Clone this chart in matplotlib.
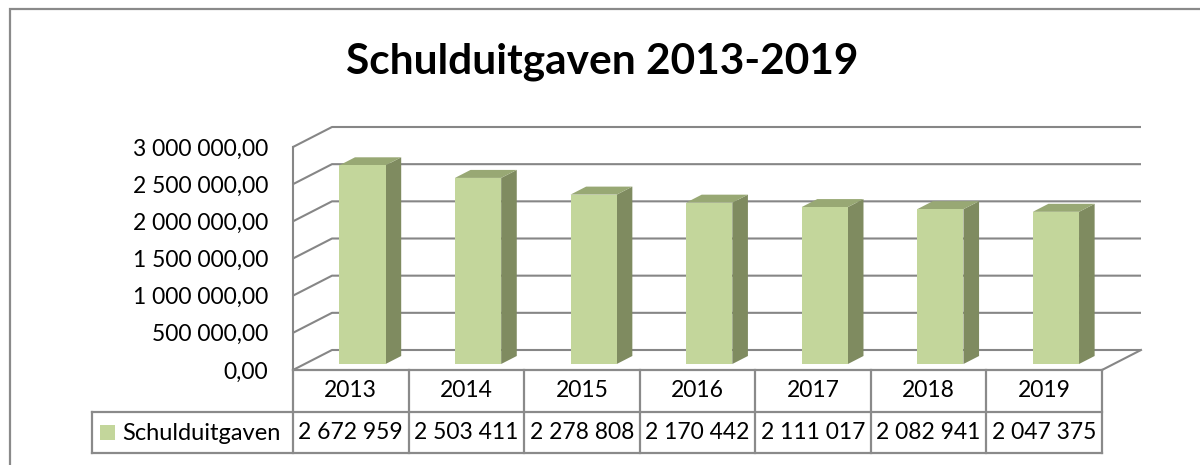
import matplotlib.pyplot as plt
from matplotlib.patches import Polygon, Rectangle

years = ['2013', '2014', '2015', '2016', '2017', '2018', '2019']
schulduitgaven = [2672959, 2503411, 2278808, 2170442, 2111017, 2082941, 2047375]
y_ticks = [0, 500000, 1000000, 1500000, 2000000, 2500000, 3000000]
series_name = 'Schulduitgaven'
title = 'Schulduitgaven 2013-2019'

plt.rcParams['font.family'] = ['Lato', 'DejaVu Sans']

W, H = 1200, 465
fig = plt.figure(figsize=(12, 4.65), dpi=100)

# frame around the chart area
fig.add_artist(Rectangle((10 / W, -0.1), 1.2, 1 - 9 / H + 0.1, transform=fig.transFigure,
                         fill=False, edgecolor='#8a8a8a', linewidth=1.6))

fig.text(602 / W, 1 - 62 / H, title, ha='center', va='center',
         fontsize=30.5, fontweight='bold', color='black')

# front plane of the 3d box
left, right, bottom, top = 293, 1102, 370, 147
ax = fig.add_axes([left / W, 1 - bottom / H, (right - left) / W, (bottom - top) / H])
n = len(years)
ax.set_xlim(0, n)
ax.set_ylim(0, y_ticks[-1])

# depth of the box, in data units
DX = 39 / ((right - left) / n)
DY = 20 / ((bottom - top) / y_ticks[-1])

grid_col = '#868686'
for v in y_ticks:
    ax.plot([0, DX, n + DX], [v, v + DY, v + DY], color=grid_col, lw=1.5,
            clip_on=False, zorder=1, solid_capstyle='butt')
ax.plot([n, n + DX], [0, DY], color=grid_col, lw=1.5, clip_on=False, zorder=1)

# the bars
f0, f1 = 0.3, 0.7
bw = 0.4
front_col = '#c3d69b'
side_col = '#7f8b60'
top_col = '#98a874'
for i, v in enumerate(schulduitgaven):
    x0 = i + 0.5 - bw / 2
    x1 = i + 0.5 + bw / 2
    a, b = f0 * DX, f0 * DY
    c, d = f1 * DX, f1 * DY
    front = [(x0 + a, b), (x1 + a, b), (x1 + a, v + b), (x0 + a, v + b)]
    side = [(x1 + a, b), (x1 + c, d), (x1 + c, v + d), (x1 + a, v + b)]
    topf = [(x0 + a, v + b), (x1 + a, v + b), (x1 + c, v + d), (x0 + c, v + d)]
    for pts, col in [(side, side_col), (topf, top_col), (front, front_col)]:
        ax.add_patch(Polygon(pts, closed=True, facecolor=col, edgecolor='none',
                             clip_on=False, zorder=3))

ax.set_yticks(y_ticks)
ax.set_yticklabels([f'{t:,.2f}'.replace(',', ' ').replace('.', ',') for t in y_ticks])
ax.tick_params(axis='y', length=0, pad=18, labelsize=16.5)
ax.set_xticks([])
for s in ['top', 'right', 'bottom']:
    ax.spines[s].set_visible(False)
ax.spines['left'].set_color(grid_col)
ax.spines['left'].set_linewidth(1.5)
ax.set_facecolor('none')

# data table under the plot
t_left, t_bottom = 92, 453
cell_w = (right - left) / n
xmin = -(left - t_left) / cell_w
tab = fig.add_axes([t_left / W, 1 - t_bottom / H, (right - t_left) / W, (t_bottom - bottom) / H])
tab.set_xlim(xmin, n)
tab.set_ylim(0, 2)
tab.axis('off')
tcol = '#8a8a8a'
lw = 1.6
tab.plot([0, n], [2, 2], color=tcol, lw=lw, clip_on=False)
tab.plot([xmin, n], [1, 1], color=tcol, lw=lw, clip_on=False)
tab.plot([xmin, n], [0, 0], color=tcol, lw=lw, clip_on=False)
tab.plot([xmin, xmin], [0, 1], color=tcol, lw=lw, clip_on=False)
for k in range(n + 1):
    tab.plot([k, k], [0, 2], color=tcol, lw=lw, clip_on=False)
for i, (yr, v) in enumerate(zip(years, schulduitgaven)):
    tab.text(i + 0.5, 1.5, yr, ha='center', va='center', fontsize=16.5)
    tab.text(i + 0.5, 0.5, f'{v:,}'.replace(',', ' '), ha='center', va='center', fontsize=16.5)

fig.add_artist(Rectangle((100 / W, 1 - 440 / H), 15 / W, 15 / H, transform=fig.transFigure,
                         facecolor=front_col, edgecolor='none'))
fig.text(122 / W, 1 - 433 / H, series_name, ha='left', va='center', fontsize=17)

fig.savefig('out.png', dpi=100)
